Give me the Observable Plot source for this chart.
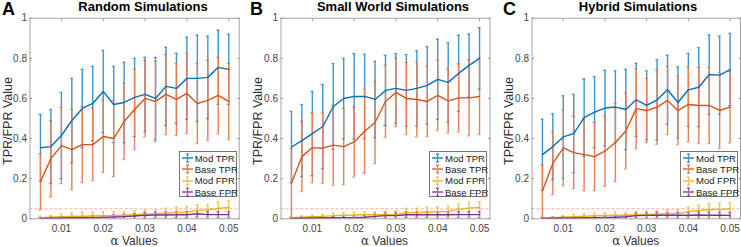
<!DOCTYPE html>
<html><head><meta charset="utf-8">
<script src="https://cdn.jsdelivr.net/npm/d3@7"></script>
<script src="https://cdn.jsdelivr.net/npm/@observablehq/plot@0.6"></script>
<style>
body{margin:0;background:#fff;font-family:"Liberation Sans",Arial,sans-serif;}
#root{position:relative;width:741px;height:247px;overflow:hidden;background:#fff;}
.abs{position:absolute;white-space:nowrap;}
.letter{font-weight:bold;font-size:18px;color:#000;}
.title{font-weight:bold;font-size:13px;color:#000;transform:translateX(-50%);}
.xlab{font-size:12px;line-height:13px;color:#333;transform:translateX(-50%);}
.xlab .al{font-family:"DejaVu Serif","Liberation Serif",serif;font-style:normal;}
.ylab{font-size:12.5px;color:#333;transform:translate(-50%,-50%) rotate(-90deg);}
.legend{border:1px solid #777;background:#fff;font-size:9.5px;color:#222;box-sizing:border-box;padding:1px 0 0 2px;}
.legend .row{display:flex;align-items:center;height:11.3px;}
.legend svg{margin-right:2px;flex:none;}
</style></head><body><div id="root"></div>
<script>
// ---- data ----
const alphas = [0.005,0.0075,0.01,0.0125,0.015,0.0175,0.02,0.0225,0.025,0.0275,0.03,0.0325,0.035,0.0375,0.04,0.0425,0.045,0.0475,0.05];
const seriesNames = ["Mod TPR","Base TPR","Mod FPR","Base FPR"];
const seriesColors = ["#0072BD","#D95319","#EDB120","#7E2F8E"];
const barColors = ["#3F95CD","#E4805A","#F1C454","#9A5FA7"];
const panelLetters = ["A","B","C"];
const panelTitles = ["Random Simulations","Small World Simulations","Hybrid Simulations"];
const xTicks = [0.01,0.02,0.03,0.04,0.05];
const yTicks = [0,0.2,0.4,0.6,0.8,1];
const fprThreshold = [0.05];

const randomModTPR     = [0.354,0.36,0.415,0.49,0.55,0.575,0.635,0.57,0.58,0.605,0.62,0.60,0.66,0.65,0.70,0.70,0.705,0.755,0.745];
const randomModTPRErr  = [0.166,0.185,0.215,0.21,0.195,0.185,0.205,0.19,0.20,0.195,0.185,0.205,0.195,0.175,0.205,0.215,0.205,0.185,0.175];
const randomBaseTPR    = [0.185,0.30,0.365,0.345,0.37,0.37,0.41,0.40,0.485,0.545,0.60,0.585,0.62,0.595,0.625,0.575,0.59,0.615,0.585];
const randomBaseTPRErr = [0.14,0.19,0.19,0.2,0.19,0.18,0.18,0.19,0.19,0.2,0.19,0.2,0.2,0.18,0.2,0.2,0.2,0.19,0.19];
const randomModFPR     = [0.006,0.008,0.01,0.012,0.013,0.014,0.015,0.016,0.018,0.02,0.024,0.025,0.028,0.031,0.033,0.042,0.045,0.052,0.056];
const randomModFPRErr  = [0.007,0.008,0.013,0.018,0.02,0.019,0.021,0.02,0.018,0.02,0.021,0.02,0.025,0.027,0.029,0.029,0.026,0.031,0.034];
const randomBaseFPR    = [0.002,0.003,0.004,0.005,0.005,0.006,0.007,0.009,0.011,0.014,0.018,0.019,0.019,0.02,0.02,0.025,0.021,0.021,0.021];
const randomBaseFPRErr = [0.004,0.005,0.006,0.007,0.007,0.008,0.009,0.01,0.011,0.012,0.014,0.014,0.014,0.014,0.015,0.016,0.015,0.015,0.015];

const smallWorldModTPR     = [0.358,0.39,0.425,0.46,0.56,0.60,0.61,0.61,0.595,0.64,0.65,0.64,0.65,0.665,0.695,0.68,0.725,0.765,0.80];
const smallWorldModTPRErr  = [0.178,0.18,0.21,0.21,0.214,0.20,0.213,0.21,0.19,0.175,0.173,0.178,0.188,0.193,0.2,0.198,0.19,0.155,0.153];
const smallWorldBaseTPR    = [0.177,0.31,0.355,0.352,0.367,0.36,0.383,0.436,0.48,0.585,0.63,0.60,0.595,0.585,0.615,0.588,0.603,0.603,0.61];
const smallWorldBaseTPRErr = [0.172,0.175,0.175,0.175,0.2,0.19,0.175,0.21,0.205,0.18,0.17,0.18,0.185,0.175,0.175,0.16,0.17,0.19,0.19];
const smallWorldModFPR     = [0.006,0.008,0.01,0.012,0.016,0.018,0.019,0.02,0.02,0.02,0.021,0.03,0.031,0.033,0.035,0.037,0.048,0.053,0.057];
const smallWorldModFPRErr  = [0.006,0.007,0.008,0.01,0.012,0.013,0.014,0.015,0.015,0.018,0.018,0.022,0.022,0.025,0.025,0.026,0.026,0.03,0.028];
const smallWorldBaseFPR    = [0.002,0.003,0.004,0.005,0.005,0.006,0.006,0.008,0.012,0.016,0.016,0.02,0.02,0.02,0.02,0.02,0.021,0.021,0.021];
const smallWorldBaseFPRErr = [0.004,0.005,0.006,0.007,0.007,0.008,0.009,0.01,0.011,0.012,0.013,0.014,0.014,0.014,0.015,0.015,0.015,0.015,0.015];

const hybridModTPR     = [0.32,0.36,0.408,0.425,0.504,0.532,0.552,0.557,0.545,0.593,0.565,0.593,0.643,0.58,0.643,0.656,0.719,0.716,0.744];
const hybridModTPRErr  = [0.177,0.164,0.205,0.195,0.193,0.177,0.188,0.18,0.2,0.182,0.172,0.2,0.172,0.177,0.182,0.197,0.198,0.194,0.18];
const hybridBaseTPR    = [0.138,0.276,0.354,0.33,0.32,0.31,0.337,0.38,0.438,0.549,0.54,0.557,0.59,0.54,0.57,0.565,0.565,0.54,0.557];
const hybridBaseTPRErr = [0.13,0.155,0.19,0.18,0.18,0.17,0.175,0.195,0.19,0.2,0.16,0.186,0.17,0.17,0.185,0.19,0.19,0.19,0.178];
const hybridModFPR     = [0.004,0.006,0.008,0.011,0.013,0.015,0.017,0.018,0.018,0.02,0.022,0.023,0.025,0.026,0.035,0.042,0.045,0.047,0.049];
const hybridModFPRErr  = [0.005,0.006,0.008,0.011,0.013,0.013,0.014,0.015,0.015,0.016,0.017,0.018,0.02,0.02,0.023,0.027,0.031,0.031,0.03];
const hybridBaseFPR    = [0.002,0.003,0.004,0.004,0.005,0.006,0.007,0.008,0.01,0.016,0.017,0.018,0.018,0.018,0.018,0.019,0.018,0.018,0.017];
const hybridBaseFPRErr = [0.004,0.004,0.005,0.006,0.006,0.007,0.008,0.009,0.01,0.012,0.013,0.014,0.013,0.014,0.014,0.015,0.015,0.015,0.015];

const panels = [
  [[randomModTPR,randomModTPRErr],[randomBaseTPR,randomBaseTPRErr],[randomModFPR,randomModFPRErr],[randomBaseFPR,randomBaseFPRErr]],
  [[smallWorldModTPR,smallWorldModTPRErr],[smallWorldBaseTPR,smallWorldBaseTPRErr],[smallWorldModFPR,smallWorldModFPRErr],[smallWorldBaseFPR,smallWorldBaseFPRErr]],
  [[hybridModTPR,hybridModTPRErr],[hybridBaseTPR,hybridBaseTPRErr],[hybridModFPR,hybridModFPRErr],[hybridBaseFPR,hybridBaseFPRErr]]
];

// ---- layout ----
const root = document.getElementById("root");
const layout = [
  {left:0,   width:247, ml:29.5, mr:8.3, title:143, letter:2},
  {left:250.5, width:247, ml:29.5, mr:8.5, title:393, letter:250},
  {left:501, width:240, ml:30.5, mr:1, title:638, letter:503}
];
const MT = 17.7, MB = 28.7, H = 247;
const capHalf = 0.00036;
const noText = () => "";

function addDiv(cls, html, style) {
  const d = document.createElement("div");
  d.className = "abs " + cls;
  d.innerHTML = html;
  Object.assign(d.style, style);
  root.appendChild(d);
  return d;
}

panels.forEach((series, p) => {
  const L = layout[p];
  const barMarks = [], capMarks = [], lineMarks = [];
  series.forEach(([mean, err], k) => {
    const rows = alphas.map((a, j) => ({x:a, y:mean[j], lo:mean[j]-err[j], hi:mean[j]+err[j]}));
    const c = seriesColors[k], bc = barColors[k];
    barMarks.push(Plot.ruleX(rows, {x:"x", y1:"lo", y2:"hi", stroke:bc, strokeWidth:1.4, clip:true}));
    capMarks.push(
      Plot.ruleY(rows, {y:"hi", x1:d=>d.x-capHalf, x2:d=>d.x+capHalf, stroke:c, strokeOpacity:0.55, strokeWidth:1.3, clip:true}),
      Plot.ruleY(rows, {y:"lo", x1:d=>d.x-capHalf, x2:d=>d.x+capHalf, stroke:c, strokeOpacity:0.55, strokeWidth:1.3, clip:true})
    );
    lineMarks.push(Plot.line(rows, {x:"x", y:"y", stroke:c, strokeWidth:1.4}));
  });
  const marks = [
    Plot.ruleY(fprThreshold, {stroke:"#F4A3A3", strokeWidth:0.9, strokeDasharray:"3,2"}),
    ...barMarks, ...capMarks, ...lineMarks,
    Plot.frame({stroke:"#9a9a9a", strokeWidth:0.9}),
    Plot.axisX({ticks:xTicks, tickSize:-2.5, tickPadding:8.5, tickFormat:d3.format(".2f"), fontSize:10, color:"#444", stroke:"#9a9a9a", label:null}),
    Plot.axisX({ticks:xTicks, anchor:"top", tickSize:-2.5, tickFormat:noText, stroke:"#9a9a9a", label:null}),
    Plot.axisY({ticks:yTicks, tickSize:-2.5, tickPadding:5.5, tickFormat:d=>String(d), fontSize:10, color:"#444", stroke:"#9a9a9a", label:null}),
    Plot.axisY({ticks:yTicks, anchor:"right", tickSize:-2.5, tickFormat:noText, stroke:"#9a9a9a", label:null})
  ];
  const chart = Plot.plot({
    width:L.width, height:H,
    marginLeft:L.ml, marginRight:L.mr, marginTop:MT, marginBottom:MB,
    x:{domain:[0.0025,0.0525], label:null},
    y:{domain:[0,1], label:null},
    style:{fontFamily:"Liberation Sans, Arial, sans-serif", background:"transparent", overflow:"visible"},
    marks
  });
  chart.style.position = "absolute";
  chart.style.left = L.left + "px";
  chart.style.top = "0px";
  root.appendChild(chart);

  const axL = L.left + L.ml, axR = L.left + L.width - L.mr;
  addDiv("letter", panelLetters[p], {left:L.letter+"px", top:"-1px"});
  addDiv("title", panelTitles[p], {left:L.title+"px", top:"-1px"});
  addDiv("xlab", '<span class="al">α</span> Values', {left:((axL+axR)/2)+"px", top:"235px"});
  addDiv("ylab", "TPR/FPR Value", {left:(L.left+7.5)+"px", top:"121px"});

  const leg = addDiv("legend", "", {left:(axR-60)+"px", top:"150.5px", width:"58px", height:"46.5px"});
  seriesNames.forEach((name, k) => {
    const c = seriesColors[k];
    const row = document.createElement("div");
    row.className = "row";
    row.innerHTML = `<svg width="11" height="10"><line x1="0" x2="11" y1="5" y2="5" stroke="${c}" stroke-width="1.3"/><line x1="5.5" x2="5.5" y1="1" y2="9" stroke="${barColors[k]}" stroke-width="1.2"/><line x1="4" x2="7" y1="1" y2="1" stroke="${c}" stroke-width="1"/><line x1="4" x2="7" y1="9" y2="9" stroke="${c}" stroke-width="1"/></svg><span>${name}</span>`;
    leg.appendChild(row);
  });
});
</script></body></html>
